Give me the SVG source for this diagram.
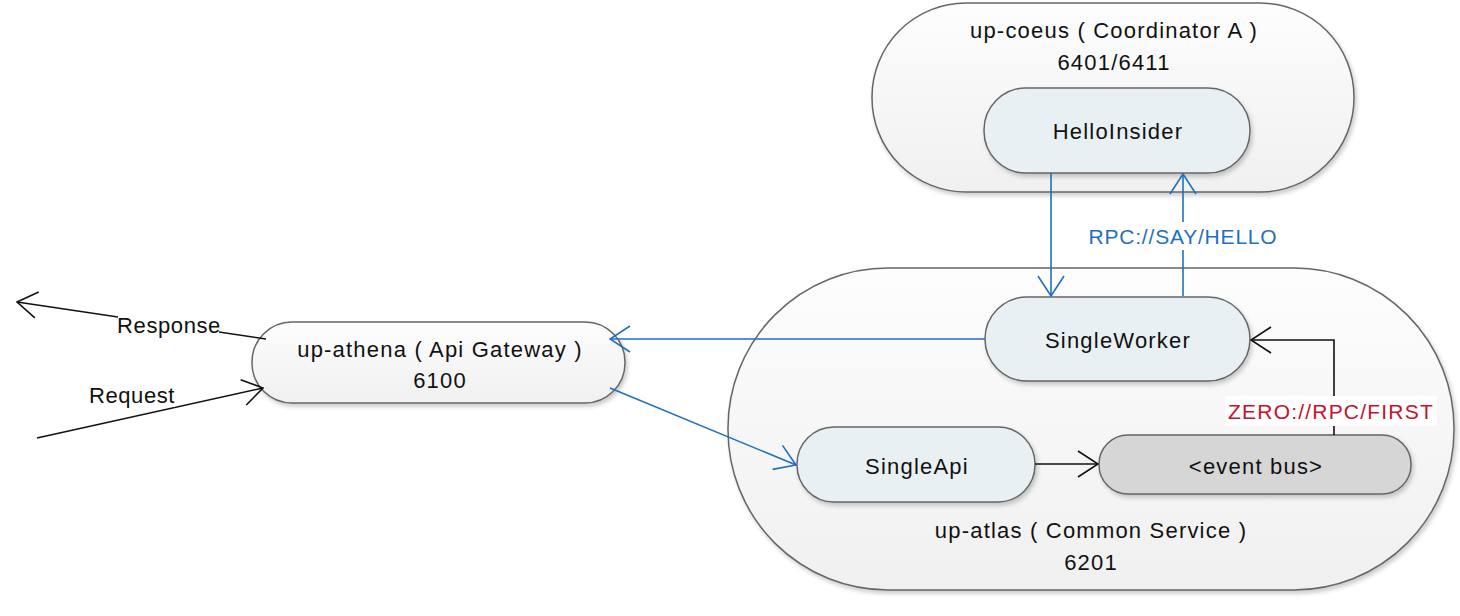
<svg xmlns="http://www.w3.org/2000/svg" width="1460" height="616" viewBox="0 0 1460 616">
<defs>
<style>
text{font-family:"Liberation Sans","DejaVu Sans",sans-serif;font-size:22px;letter-spacing:1.2px;fill:#111;text-anchor:middle;dominant-baseline:central}
.cont{fill:url(#gC);stroke:#666;stroke-width:1.5}
.inner{fill:#e9f0f4;stroke:#666;stroke-width:1.5}
.bus{fill:#d6d6d6;stroke:#666;stroke-width:1.5}
.blue{stroke:#1f70bf;stroke-width:1.6;fill:none}
.blk{stroke:#111;stroke-width:1.6;fill:none}
.lbg{fill:#fff}
.rpc{fill:#1f70bf;font-size:21px;letter-spacing:0.8px}
.zero{fill:#c8102e;font-size:21px;letter-spacing:1.2px}
.edge{font-size:22px;letter-spacing:0.6px}
</style>
<linearGradient id="gC" x1="0" y1="0" x2="0" y2="1">
<stop offset="0" stop-color="#fdfdfd"/><stop offset="1" stop-color="#f0f0f0"/>
</linearGradient>
<filter id="sh" x="-10%" y="-10%" width="120%" height="130%">
<feDropShadow dx="2" dy="3" stdDeviation="2" flood-color="#000" flood-opacity="0.2"/>
</filter>
<marker id="aB" viewBox="0 0 22 28" markerWidth="22" markerHeight="28" refX="21" refY="14" orient="auto" markerUnits="userSpaceOnUse">
<path d="M1,1 L21,14 L1,27" fill="none" stroke="#1f70bf" stroke-width="1.6"/>
</marker>
<marker id="aK" viewBox="0 0 22 28" markerWidth="22" markerHeight="28" refX="21" refY="14" orient="auto" markerUnits="userSpaceOnUse">
<path d="M1,1 L21,14 L1,27" fill="none" stroke="#111" stroke-width="1.6"/>
</marker>
</defs>

<g id="up-coeus">
<rect class="cont" filter="url(#sh)" x="872" y="3" width="482" height="189" rx="94" ry="94"/>
<text x="1114" y="30">up-coeus ( Coordinator A )</text>
<text x="1114" y="62">6401/6411</text>
</g>

<g id="up-atlas">
<rect class="cont" filter="url(#sh)" x="728" y="268" width="726" height="322" rx="160" ry="160"/>
<text x="1091" y="530">up-atlas ( Common Service )</text>
<text x="1091" y="562">6201</text>
</g>

<g id="up-athena">
<rect class="cont" filter="url(#sh)" x="252" y="322" width="373" height="81" rx="40" ry="40"/>
<text x="440" y="349">up-athena ( Api Gateway )</text>
<text x="440" y="380">6100</text>
</g>

<g id="HelloInsider">
<rect class="inner" filter="url(#sh)" x="984" y="88" width="266" height="85" rx="42" ry="42"/>
<text x="1118" y="131">HelloInsider</text>
</g>

<g id="SingleWorker">
<rect class="inner" filter="url(#sh)" x="985" y="297" width="265" height="84" rx="42" ry="42"/>
<text x="1118" y="340">SingleWorker</text>
</g>

<g id="SingleApi">
<rect class="inner" filter="url(#sh)" x="797" y="427" width="238" height="75" rx="37" ry="37"/>
<text x="917" y="466">SingleApi</text>
</g>

<g id="event-bus">
<rect class="bus" filter="url(#sh)" x="1099" y="435" width="312" height="59" rx="29" ry="29"/>
<text x="1256" y="466">&lt;event bus&gt;</text>
</g>

<g id="connectors">
<path class="blue" d="M1051,173 L1051,296" marker-end="url(#aB)"/>
<path class="blue" d="M1183,296 L1183,174" marker-end="url(#aB)"/>
<rect class="lbg" x="1088" y="222" width="190" height="28"/>
<text class="rpc" x="1183" y="236">RPC://SAY/HELLO</text>

<path class="blue" d="M985,339 L610,339" marker-end="url(#aB)"/>
<path class="blue" d="M610,388 L796,465" marker-end="url(#aB)"/>

<path class="blk" d="M1035,464 L1098,464" marker-end="url(#aK)"/>
<path class="blk" d="M1334,435 L1334,340 L1251,340" marker-end="url(#aK)"/>
<rect class="lbg" x="1225" y="396" width="212" height="30"/>
<text class="zero" x="1331" y="411">ZERO://RPC/FIRST</text>

<path class="blk" d="M266,339 L17,302" marker-end="url(#aK)"/>
<rect class="lbg" x="118" y="312" width="101" height="26"/>
<text class="edge" x="169" y="325">Response</text>

<path class="blk" d="M37,438 L263,388" marker-end="url(#aK)"/>
<rect class="lbg" x="87" y="383" width="88" height="24"/>
<text class="edge" x="132" y="395">Request</text>
</g>
</svg>
